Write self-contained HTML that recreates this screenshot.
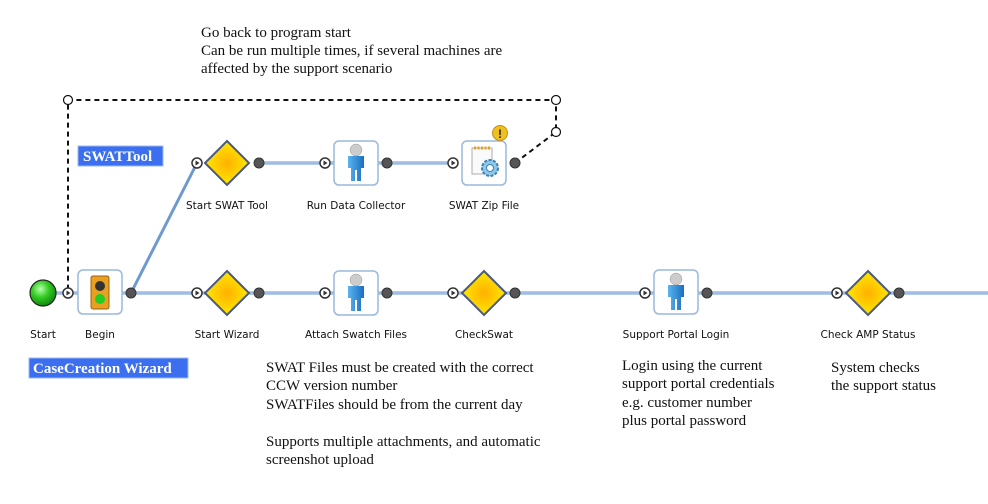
<!DOCTYPE html>
<html><head><meta charset="utf-8"><style>
html,body{margin:0;padding:0;background:#fff;}
svg{display:block;}
.l{font-family:"DejaVu Sans","Liberation Sans",sans-serif;font-size:10.5px;fill:#111;}
.a{font-family:"Liberation Serif",serif;font-size:15px;fill:#111;}
.t{font-family:"Liberation Serif",serif;font-size:15px;font-weight:bold;fill:#fff;}
</style></head><body>
<svg width="988" height="504" viewBox="0 0 988 504" xmlns="http://www.w3.org/2000/svg">
<defs>
<radialGradient id="dg" cx="50%" cy="50%" r="55%"><stop offset="0" stop-color="#ffb000"/><stop offset="1" stop-color="#ffee00"/></radialGradient>
<radialGradient id="gg" cx="40%" cy="35%" r="65%"><stop offset="0" stop-color="#b8ffb0"/><stop offset="0.5" stop-color="#33cc22"/><stop offset="1" stop-color="#118811"/></radialGradient>
<linearGradient id="pg" x1="0" x2="1"><stop offset="0" stop-color="#5ab4f0"/><stop offset="1" stop-color="#1a6fc0"/></linearGradient>
<g id="diam"><path d="M0,-22 L22,0 L0,22 L-22,0 Z" fill="url(#dg)" stroke="#4a5a80" stroke-width="2"/></g>
<g id="box"><rect x="-22" y="-22" width="44" height="44" rx="5" fill="#fff" stroke="#9ab8dc" stroke-width="1.5"/></g>
<g id="person"><circle cx="0" cy="-13" r="6" fill="#ccc" stroke="#999" stroke-width="0.5"/><path d="M-8,-7 L8,-7 L8,5 L5,5 L5,18 L1,18 L1,7 L-1,7 L-1,18 L-5,18 L-5,5 L-8,5 Z" fill="url(#pg)"/></g>
<g id="inp"><circle r="5" fill="#fff" stroke="#333" stroke-width="1.5"/><path d="M-1.5,-2.5 L2.5,0 L-1.5,2.5 Z" fill="#333"/></g>
<g id="outp"><circle r="5" fill="#555" stroke="#333" stroke-width="1"/></g>
</defs>
<g stroke="#6f9ad0" stroke-width="3" fill="none">
<line x1="56" y1="293" x2="988" y2="293"/>
<line x1="131" y1="293" x2="197" y2="163"/>
<line x1="259" y1="163" x2="453" y2="163"/>
</g>
<g stroke="#cfe0f4" stroke-width="1" fill="none">
<line x1="56" y1="293" x2="988" y2="293"/>
<line x1="259" y1="163" x2="453" y2="163"/>
</g>
<g stroke="#111" stroke-width="2" stroke-dasharray="5,4" fill="none">
<polyline points="515,163 556,132 556,100 68,100 68,293"/>
</g>
<g fill="#fff" stroke="#111" stroke-width="1.2">
<circle cx="68" cy="100" r="4.5"/><circle cx="556" cy="100" r="4.5"/><circle cx="556" cy="132" r="4.5"/>
</g>
<circle cx="43" cy="293" r="13" fill="url(#gg)" stroke="#222" stroke-width="1.2"/>
<use href="#box" x="100" y="292"/>
<rect x="91" y="276" width="18" height="33" rx="2" fill="#e8a020" stroke="#a06010"/>
<circle cx="100" cy="286" r="5" fill="#333"/><circle cx="100" cy="299" r="5" fill="#22cc22"/>
<use href="#diam" x="227" y="293"/><use href="#diam" x="227" y="163"/>
<use href="#diam" x="484" y="293"/><use href="#diam" x="868" y="293"/>
<use href="#box" x="356" y="293"/><use href="#person" x="356" y="293"/>
<use href="#box" x="356" y="163"/><use href="#person" x="356" y="163"/>
<use href="#box" x="676" y="292"/><use href="#person" x="676" y="292"/>
<use href="#box" x="484" y="163"/>
<rect x="472" y="148" width="20" height="26" fill="#fafafa" stroke="#999" stroke-width="0.8"/>
<line x1="474" y1="148" x2="490" y2="148" stroke="#e0a020" stroke-width="3" stroke-dasharray="2,1.5"/>
<circle cx="490" cy="168" r="8" fill="#8cc8ea" stroke="#3a80b8" stroke-width="2" stroke-dasharray="3,1.5"/>
<circle cx="490" cy="168" r="3.5" fill="#fff" stroke="#3a80b8"/>
<circle cx="500" cy="133" r="7.5" fill="#f0c020" stroke="#c09010"/>
<text x="500" y="138" font-family="Liberation Sans" font-weight="bold" font-size="12" text-anchor="middle" fill="#222">!</text>
<use href="#inp" x="68" y="293"/><use href="#outp" x="131" y="293"/>
<use href="#inp" x="197" y="293"/><use href="#outp" x="259" y="293"/>
<use href="#inp" x="325" y="293"/><use href="#outp" x="387" y="293"/>
<use href="#inp" x="453" y="293"/><use href="#outp" x="515" y="293"/>
<use href="#inp" x="645" y="293"/><use href="#outp" x="707" y="293"/>
<use href="#inp" x="837" y="293"/><use href="#outp" x="899" y="293"/>
<use href="#inp" x="197" y="163"/><use href="#outp" x="259" y="163"/>
<use href="#inp" x="325" y="163"/><use href="#outp" x="387" y="163"/>
<use href="#inp" x="453" y="163"/><use href="#outp" x="515" y="163"/>
<text class="l" x="43" y="338" text-anchor="middle">Start</text>
<text class="l" x="100" y="338" text-anchor="middle">Begin</text>
<text class="l" x="227" y="338" text-anchor="middle">Start Wizard</text>
<text class="l" x="356" y="338" text-anchor="middle">Attach Swatch Files</text>
<text class="l" x="484" y="338" text-anchor="middle">CheckSwat</text>
<text class="l" x="676" y="338" text-anchor="middle">Support Portal Login</text>
<text class="l" x="868" y="338" text-anchor="middle">Check AMP Status</text>
<text class="l" x="227" y="209" text-anchor="middle">Start SWAT Tool</text>
<text class="l" x="356" y="209" text-anchor="middle">Run Data Collector</text>
<text class="l" x="484" y="209" text-anchor="middle">SWAT Zip File</text>
<rect x="78" y="146" width="85" height="20" fill="#3b6ff0" stroke="#9ab8f0"/>
<text class="t" x="83" y="161">SWATTool</text>
<rect x="29" y="358" width="159" height="20" fill="#3b6ff0" stroke="#9ab8f0"/>
<text class="t" x="33" y="373">CaseCreation Wizard</text>
<text class="a" x="201" y="37">Go back to program start</text>
<text class="a" x="201" y="55">Can be run multiple times, if several machines are</text>
<text class="a" x="201" y="73">affected by the support scenario</text>
<text class="a" x="266" y="372">SWAT Files must be created with the correct</text>
<text class="a" x="266" y="390">CCW version number</text>
<text class="a" x="266" y="409">SWATFiles should be from the current day</text>
<text class="a" x="266" y="446">Supports multiple attachments, and automatic</text>
<text class="a" x="266" y="464">screenshot upload</text>
<text class="a" x="622" y="370">Login using the current</text>
<text class="a" x="622" y="388">support portal credentials</text>
<text class="a" x="622" y="407">e.g. customer number</text>
<text class="a" x="622" y="425">plus portal password</text>
<text class="a" x="831" y="372">System checks</text>
<text class="a" x="831" y="390">the support status</text>
</svg>
</body></html>
